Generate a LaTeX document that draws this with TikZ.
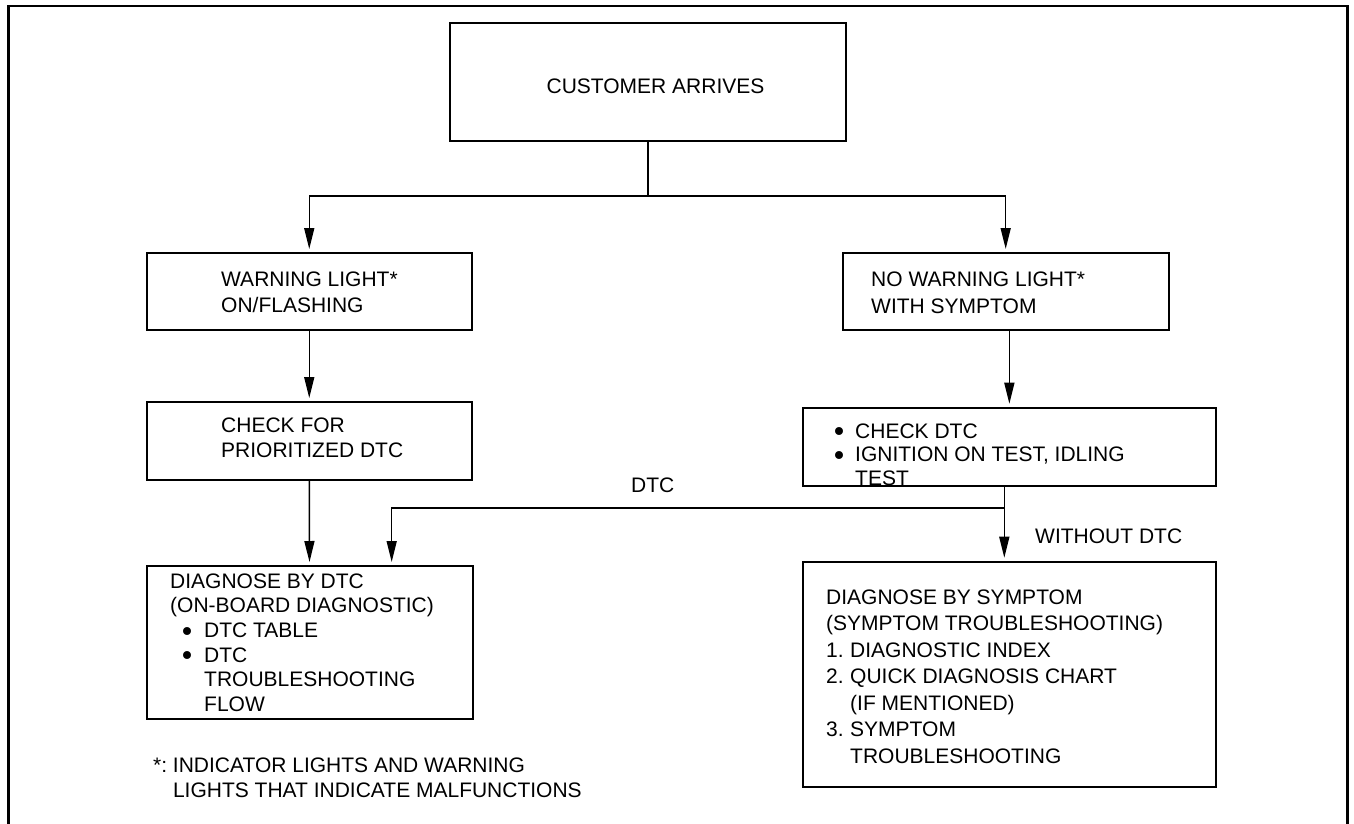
\documentclass[tikz,border=0pt]{standalone}
\usepackage{fontspec}
\setmainfont{Liberation Sans}
\usetikzlibrary{arrows.meta,calc}
\newcommand\Ln[1]{\hbox{#1}}
\newcommand\stk[2]{\vtop{\baselineskip=#1\relax\lineskiplimit=-100pt\lineskip=0pt #2}}
\newcommand\dotb{\raisebox{2.6pt}{\setlength\unitlength{1pt}\begin{picture}(7.6,7.6)\put(3.8,3.8){\circle*{7.6}}\end{picture}}}
\newcommand\bul{\hspace*{2pt}\makebox[20pt][l]{\dotb}}
\newcommand\bulb{\hspace*{13pt}\makebox[21pt][l]{\dotb}}
\tikzset{
  box/.style={draw=black, line width=2pt, rectangle, inner sep=0pt, anchor=north west},
  conn/.style={draw=black, line width=1.5pt},
  arr/.style={conn, -{Triangle[length=21pt,width=10pt]}, shorten >=3pt},
  txt/.style={anchor=base west, inner sep=0pt, font=\fontsize{21}{24}\selectfont, text=black},
  frame/.style={draw=black, line width=2.6pt},
}
\begin{document}
\begin{tikzpicture}[x=1pt,y=-1pt]
\useasboundingbox (0,0) rectangle (1354,824);
\fill[white] (0,0) rectangle (1354,824);
% outer frame
\draw[frame] (8.3,824) -- (8.3,6) -- (1347.5,6) -- (1347.5,824);

% boxes
\node[box, minimum width=396pt, minimum height=118pt] (top) at (449,22) {};
\node[box, minimum width=325.5pt, minimum height=77pt] (warn) at (145.5,252) {};
\node[box, minimum width=326pt, minimum height=77pt] (nowarn) at (841.7,252) {};
\node[box, minimum width=325.5pt, minimum height=77.5pt] (chkfor) at (145.5,401) {};
\node[box, minimum width=413.3pt, minimum height=78.3pt] (chkdtc) at (801.7,406.7) {};
\node[box, minimum width=326pt, minimum height=153pt] (dtcbox) at (145.5,565) {};
\node[box, minimum width=413.3pt, minimum height=225pt] (symbox) at (801.7,560.7) {};

% texts
\node[txt, anchor=base] (top-t) at (655.5,93.5) {CUSTOMER ARRIVES};
\node[txt] (warn-t) at (221,286.7) {\stk{26pt}{\Ln{WARNING LIGHT*}\Ln{ON/FLASHING}}};
\node[txt] (nowarn-t) at (871,286.7) {\stk{27pt}{\Ln{NO WARNING LIGHT*}\Ln{WITH SYMPTOM}}};
\node[txt] (chkfor-t) at (221,432.7) {\stk{24.5pt}{\Ln{CHECK FOR}\Ln{PRIORITIZED DTC}}};
\node[txt] (chkdtc-t) at (833,438) {\stk{23.5pt}{\Ln{\bul CHECK DTC}\Ln{\bul IGNITION ON TEST, IDLING}\Ln{\hspace*{22pt}TEST}}};
\node[txt] (dtcbox-t) at (170,588) {\stk{24.7pt}{\Ln{DIAGNOSE BY DTC}\Ln{(ON-BOARD DIAGNOSTIC)}\Ln{\bulb DTC TABLE}\Ln{\bulb DTC}\Ln{\hspace*{34pt}TROUBLESHOOTING}\Ln{\hspace*{34pt}FLOW}}};
\node[txt] (symbox-t) at (826,604.3) {\stk{26.5pt}{\Ln{DIAGNOSE BY SYMPTOM}\Ln{(SYMPTOM TROUBLESHOOTING)}\Ln{\makebox[24pt][l]{1.}DIAGNOSTIC INDEX}\Ln{\makebox[24pt][l]{2.}QUICK DIAGNOSIS CHART}\Ln{\hspace*{24pt}(IF MENTIONED)}\Ln{\makebox[24pt][l]{3.}SYMPTOM}\Ln{\hspace*{24pt}TROUBLESHOOTING}}};
\node[txt] (dtc-lbl) at (631,492.7) {DTC};
\node[txt] (wo-lbl) at (1035,543) {WITHOUT DTC};
\node[txt] (note) at (153,772.7) {\stk{24.3pt}{\Ln{\makebox[19.8pt][l]{*:}INDICATOR LIGHTS AND WARNING}\Ln{\hspace*{19.8pt}LIGHTS THAT INDICATE MALFUNCTIONS}}};

% connectors
\coordinate (j1) at (647,196);
\draw[conn] (top.south) -- (top.south |- j1);
\draw[arr] (j1) -| (warn.north);
\draw[arr] (j1) -| (nowarn.north);
\draw[arr] (warn.south) -- (chkfor.north);
\draw[arr] (nowarn.south -| chkdtc.north) -- (chkdtc.north);
\draw[arr] (chkfor.south) -- (dtcbox.north);
\coordinate (j2) at (1004.3,508);
\draw[conn] (chkdtc.south -| j2) -- (j2);
\draw[arr] (j2) -- (symbox.north -| j2);
\draw[arr] (j2) -| ([xshift=246.2pt]dtcbox.north west);
\end{tikzpicture}
\end{document}
